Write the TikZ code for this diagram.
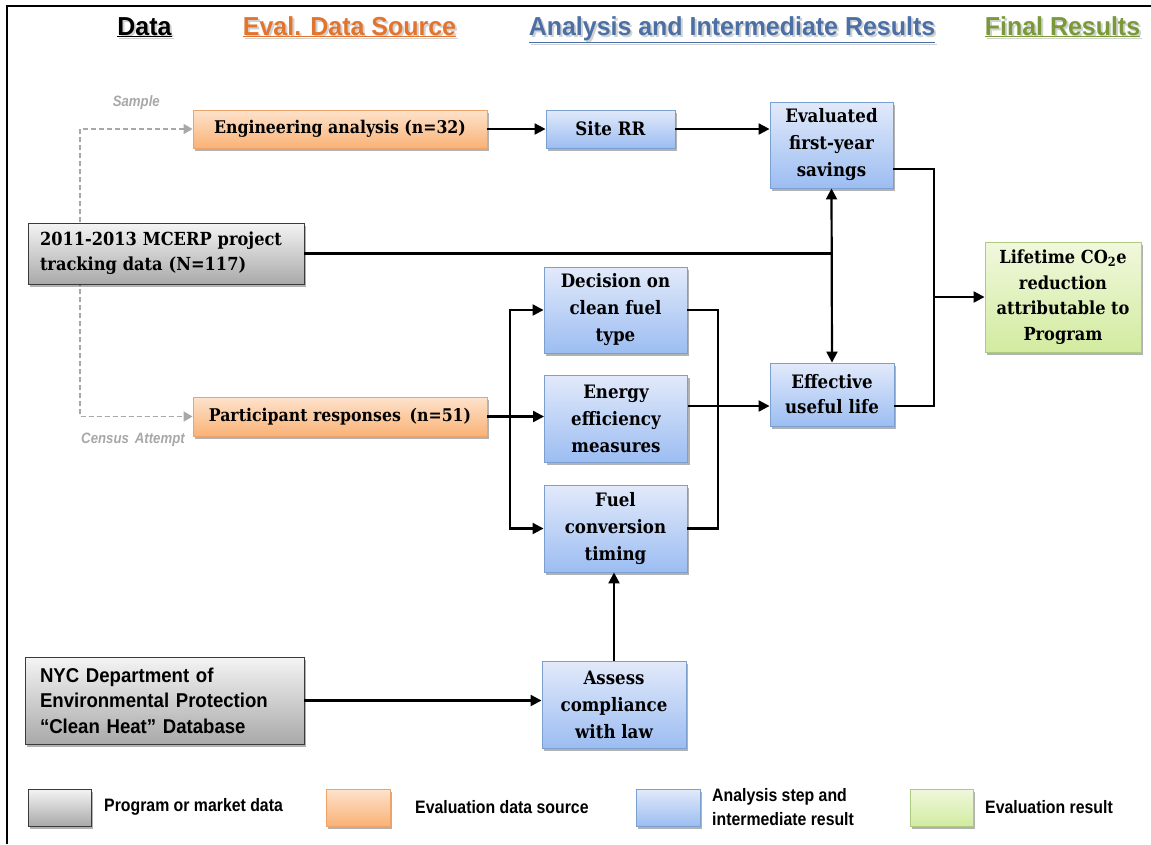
\documentclass[tikz,border=0pt]{standalone}
\usepackage{fontspec}
\setmainfont{DejaVu Serif}
\newfontfamily\bfnt[FakeStretch=0.90]{DejaVu Serif}
\newfontfamily\nfnt[FakeStretch=0.88]{Liberation Sans}
\newfontfamily\hfnt[FakeStretch=0.96]{Liberation Sans}
\newfontfamily\yfnt[FakeStretch=0.93]{Liberation Sans}
\usetikzlibrary{arrows.meta,shadows,backgrounds}
\definecolor{bluetop}{HTML}{E2EAFA}
\definecolor{bluebot}{HTML}{9CBDF2}
\definecolor{bluebd}{HTML}{7B9FCF}
\definecolor{orgtop}{HTML}{FEE3CC}
\definecolor{orgbot}{HTML}{F9B276}
\definecolor{orgbd}{HTML}{EFA368}
\definecolor{grytop}{HTML}{F4F4F4}
\definecolor{grybot}{HTML}{A9A9A9}
\definecolor{grybd}{HTML}{3A3A3A}
\definecolor{grntop}{HTML}{F0F8DC}
\definecolor{grnbot}{HTML}{D2EBA0}
\definecolor{grnbd}{HTML}{AECB82}
\definecolor{hdorange}{HTML}{E2742E}
\definecolor{hdblue}{HTML}{4A70A6}
\definecolor{hdgreen}{HTML}{7A9A3A}
\definecolor{dashgray}{HTML}{A8A8A8}
\begin{document}
\begin{tikzpicture}[x=1pt,y=-1pt,
  box/.style={draw, line width=0.9pt, align=center, inner sep=2pt,
    font=\bfnt\bfseries\fontsize{18.5}{27}\selectfont,
    drop shadow={shadow xshift=2pt, shadow yshift=-2.5pt, opacity=.3, fill=black}},
  bluebox/.style={box, draw=bluebd, top color=bluetop, bottom color=bluebot},
  orgbox/.style={box, draw=orgbd, top color=orgtop, bottom color=orgbot,
    font=\bfnt\bfseries\fontsize{17.5}{27}\selectfont},
  grybox/.style={box, draw=grybd, top color=grytop, bottom color=grybot},
  grnbox/.style={box, draw=grnbd, top color=grntop, bottom color=grnbot},
  hdr/.style={font=\hfnt\bfseries\fontsize{26}{28}\selectfont, inner sep=0pt, anchor=base},
  hdrshadow/.style={hdr, text=black!40, opacity=.45},
  legtxt/.style={font=\nfnt\bfseries\fontsize{18}{22}\selectfont, inner sep=0pt, anchor=west, align=left},
  lbl/.style={font=\nfnt\bfseries\itshape\fontsize{15}{16}\selectfont, text=dashgray, inner sep=0pt},
  conn/.style={line width=2.2pt, black},
  arr/.style={conn, -{Triangle[length=11pt,width=11pt]}},
  dblarr/.style={conn, {Triangle[length=11pt,width=11pt]}-{Triangle[length=11pt,width=11pt]}},
  dasharr/.style={line width=1.6pt, dashgray, dash pattern=on 5pt off 3pt,
    {Triangle[length=9pt,width=10pt]}-{Triangle[length=9pt,width=10pt]}}
]
\useasboundingbox (0,0) rectangle (1151,844);
\begin{pgfonlayer}{background}
\fill[white] (0,0) rectangle (1151,844);
\end{pgfonlayer}
% frame
\draw[line width=2.5pt] (7,844) -- (7,6) -- (1151,6);

% headers
\node[hdrshadow] (hdatas) at (146.5,37) {\underline{Data}};
\node[hdr] (hdata) at (144.5,35) {\underline{Data}};
\node[hdrshadow] (hevals) at (351.5,37) {\underline{Eval. Data Source}};
\node[hdr, text=hdorange] (heval) at (349.5,35) {\underline{Eval. Data Source}};
\node[hdrshadow] (hanas) at (734,37) {\underline{Analysis and Intermediate Results}};
\node[hdr, text=hdblue] (hana) at (732,35) {\underline{Analysis and Intermediate Results}};
\node[hdrshadow] (hfins) at (1064.5,37) {\underline{Final Results}};
\node[hdr, text=hdgreen] (hfin) at (1062.5,35) {\underline{Final Results}};

% boxes
\node[orgbox, minimum width=294pt, minimum height=38pt] (eng) at (340,129) {Engineering analysis (n=32)};
\node[bluebox, minimum width=129pt, minimum height=38pt] (site) at (610.5,129) {Site RR};
\node[bluebox, minimum width=123pt, minimum height=86pt] (evalfy) at (831.5,145) {Evaluated\\first-year\\savings};
\node[grybox, minimum height=61pt, text width=252pt, inner xsep=12pt, align=left,
      font=\bfnt\bfseries\fontsize{18}{25}\selectfont] (track) at (166,253.5) {2011-2013 MCERP project\\tracking data (N=117)};
\node[bluebox, minimum width=143pt, minimum height=86pt] (dec) at (615.5,310) {Decision on\\clean fuel\\type};
\node[bluebox, minimum width=143pt, minimum height=87pt] (eem) at (616,418.5) {Energy\\efficiency\\measures};
\node[bluebox, minimum width=143pt, minimum height=87pt] (fct) at (615.5,528.5) {Fuel\\conversion\\timing};
\node[bluebox, minimum width=124pt, minimum height=63pt, font=\bfnt\bfseries\fontsize{18.5}{25}\selectfont] (eul) at (832,394.5) {Effective\\useful life};
\node[grnbox, minimum width=156pt, minimum height=110pt, font=\bfnt\bfseries\fontsize{18}{25.5}\selectfont] (life) at (1063,297) {Lifetime CO\textsubscript{2}e\\reduction\\attributable to\\Program};
\node[orgbox, minimum width=294pt, minimum height=39pt] (part) at (340,416.5) {Participant responses\hspace{0.5em}(n=51)};
\node[grybox, minimum height=87pt, text width=249pt, inner xsep=15pt, align=left,
      font=\yfnt\bfseries\fontsize{20}{25.5}\selectfont] (nyc) at (164.5,700.5) {NYC Department of\\Environmental Protection\\“Clean Heat” Database};
\node[bluebox, minimum width=144pt, minimum height=87pt] (assess) at (614,704.5) {Assess\\compliance\\with law};

% legend
\node[grybox, minimum width=63pt, minimum height=37pt] (lg1) at (59.5,807.5) {};
\node[legtxt] (lt1) at (104,807) {Program or market data};
\node[orgbox, minimum width=64pt, minimum height=37pt] (lg2) at (358,807.5) {};
\node[legtxt] (lt2) at (415,807) {Evaluation data source};
\node[bluebox, minimum width=64pt, minimum height=37pt] (lg3) at (668,807.5) {};
\node[legtxt, font=\nfnt\bfseries\fontsize{18}{24}\selectfont] (lt3) at (712,807) {Analysis step and\\intermediate result};
\node[grnbox, minimum width=63pt, minimum height=37pt] (lg4) at (941.5,807.5) {};
\node[legtxt] (lt4) at (985,807) {Evaluation result};

% dashed sample lines (behind boxes)
\coordinate (dx) at (80,0);
\begin{pgfonlayer}{background}
\draw[dasharr] (eng.west) -| (dx |- part.west) -- (part.west);
\end{pgfonlayer}
\node[lbl, anchor=east] (lsample) at (160,103) {Sample};
\node[lbl] (lcensus) at (133,440) {Census\hspace{0.4em}Attempt};

% connectors
\draw[arr] (eng) -- (site);
\draw[arr] (site.east) -- (site.east -| evalfy.west);
\draw[conn] (track.east) -- (track.east -| evalfy.south);
\draw[dblarr] (evalfy.south) -- (eul.north);

\coordinate (bx) at (510,0);
\draw[arr] (part.east) -- (part.east -| eem.west);
\draw[arr] (bx |- part.east) |- (dec.west);
\draw[arr] (bx |- part.east) |- (fct.west);

\coordinate (mx) at (718,0);
\draw[conn] (dec.east) -| (mx |- fct.east) -- (fct.east);
\coordinate (y406) at (0,406);
\draw[arr] (eem.east |- y406) -- (eul.west |- y406);

\coordinate (rx) at (934,0);
\coordinate (y169) at (0,169);
\draw[conn] (evalfy.east |- y169) -| (rx |- life.west);
\draw[conn] (eul.east |- y406) -| (rx |- life.west);
\draw[arr] (rx |- life.west) -- (life.west);

\draw[arr] (assess.north) -- (assess.north |- fct.south);
\draw[arr] (nyc.east) -- (nyc.east -| assess.west);
\end{tikzpicture}
\end{document}
